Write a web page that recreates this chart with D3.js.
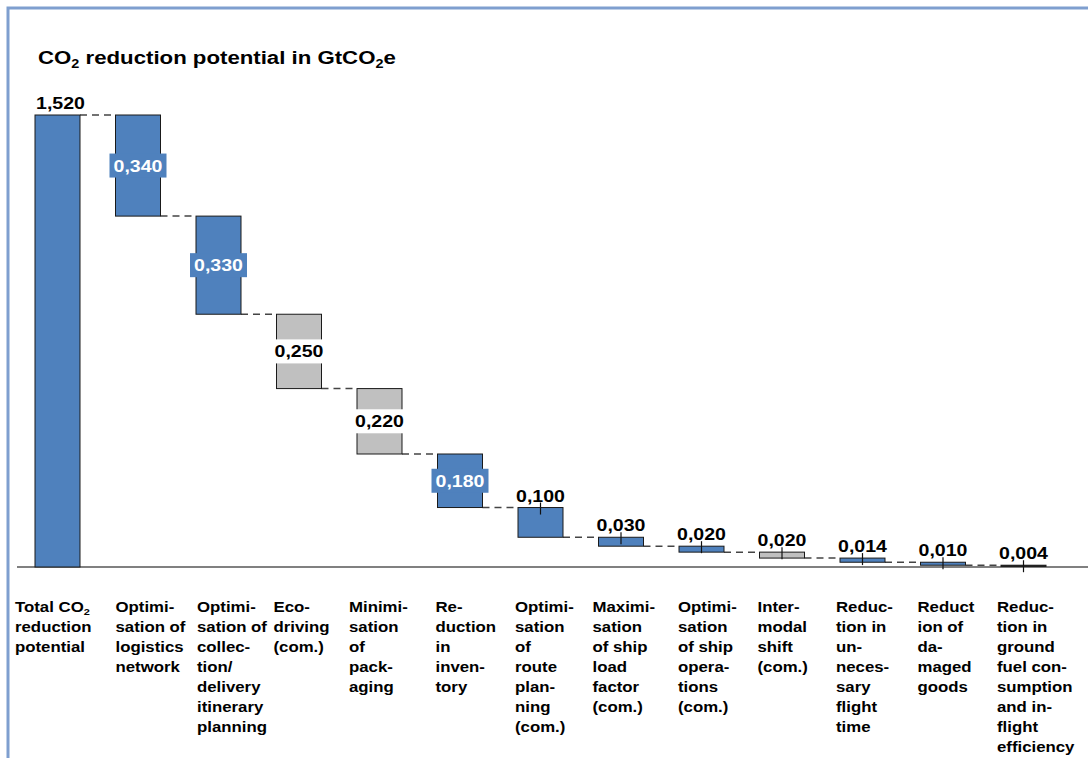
<!DOCTYPE html>
<html>
<head>
<meta charset="utf-8">
<script src="https://cdn.jsdelivr.net/npm/d3@7"></script>
<style>
  html, body { margin: 0; padding: 0; background: #fff; }
  svg { display: block; font-family: "Liberation Sans", Arial, sans-serif; }
</style>
</head>
<body>
<svg id="chart" width="1088" height="758"></svg>
<script>
// ---------------- data ----------------
const categoryLines = [
  ["Total CO_2", "reduction", "potential"],
  ["Optimi-", "sation of", "logistics", "network"],
  ["Optimi-", "sation of", "collec-", "tion/", "delivery", "itinerary", "planning"],
  ["Eco-", "driving", "(com.)"],
  ["Minimi-", "sation", "of", "pack-", "aging"],
  ["Re-", "duction", "in", "inven-", "tory"],
  ["Optimi-", "sation", "of", "route", "plan-", "ning", "(com.)"],
  ["Maximi-", "sation", "of ship", "load", "factor", "(com.)"],
  ["Optimi-", "sation", "of ship", "opera-", "tions", "(com.)"],
  ["Inter-", "modal", "shift", "(com.)"],
  ["Reduc-", "tion in", "un-", "neces-", "sary", "flight", "time"],
  ["Reduct", "ion of", "da-", "maged", "goods"],
  ["Reduc-", "tion in", "ground", "fuel con-", "sumption", "and in-", "flight", "efficiency"]
];
const values = [1.520, 0.340, 0.330, 0.250, 0.220, 0.180, 0.100, 0.030, 0.020, 0.020, 0.014, 0.010, 0.004];
const kinds  = ["total", "main", "main", "aux", "aux", "main", "main", "main", "main", "aux", "main", "main", "minor"];
const titleText = "CO_2 reduction potential in GtCO_2e";

// ---------------- layout / style ----------------
const W = 1088, H = 758;
const fillOf = { total: "#4F81BD", main: "#4F81BD", aux: "#C0C0C0", minor: "#1a1a1a" };
const labelShift = [-20, 0, 1, -3, -8, -2, -3, -6, -1, -2, -4, -3, -4];

const svg = d3.select("#chart");

// frame
svg.append("path")
  .attr("d", `M8,${H} V8 H${W}`)
  .attr("fill", "none")
  .attr("stroke", "#7F9FCF")
  .attr("stroke-width", 3);

const n = values.length;
const x = d3.scaleBand().domain(d3.range(n)).range([35, 1046]).paddingInner(0.441).paddingOuter(0);
const y = d3.scaleLinear().domain([0, 1.52]).range([567, 115]);
const bw = x.bandwidth();

// waterfall extents
const bars = [];
let cum = values[0];
bars.push({ i: 0, top: values[0], bottom: 0, v: values[0], kind: kinds[0] });
for (let i = 1; i < n; i++) {
  bars.push({ i, top: cum, bottom: cum - values[i], v: values[i], kind: kinds[i] });
  cum -= values[i];
}

const fmt = v => d3.format(".3f")(v).replace(".", ",");

// helper: text with subscripts ("_2") and horizontal stretch
function stext(parent, tx, ty, str, size, sx, anchor, fill) {
  const g = parent.append("g").attr("transform", `translate(${tx},${ty}) scale(${sx},1)`);
  const t = g.append("text")
    .attr("font-size", size).attr("font-weight", "bold")
    .attr("text-anchor", anchor || "start")
    .attr("fill", fill || "#000");
  const parts = str.split(/(_\d)/).filter(p => p);
  let shifted = 0;
  parts.forEach(p => {
    if (p[0] === "_") {
      const s = size * 0.22;
      t.append("tspan").text(p.slice(1)).attr("font-size", size * 0.65).attr("dy", s);
      shifted = s;
    } else {
      const ts = t.append("tspan").text(p);
      if (shifted) { ts.attr("dy", -shifted); shifted = 0; }
    }
  });
  return t;
}

// title
stext(svg, 38, 64, titleText, 19, 1.17, "start");

// connectors
const conn = svg.append("g");
for (let i = 0; i < n - 1; i++) {
  const lvl = i === 0 ? bars[0].top : bars[i].bottom;
  conn.append("line")
    .attr("x1", x(i) + bw).attr("x2", x(i + 1))
    .attr("y1", y(lvl)).attr("y2", y(lvl))
    .attr("stroke", "#444").attr("stroke-width", 1.5)
    .attr("stroke-dasharray", "7,5");
}

// baseline
svg.append("line")
  .attr("x1", 17).attr("x2", W).attr("y1", y(0)).attr("y2", y(0))
  .attr("stroke", "#808080").attr("stroke-width", 2);

// bars
svg.append("g").selectAll("rect").data(bars).join("rect")
  .attr("x", d => x(d.i))
  .attr("y", d => y(d.top))
  .attr("width", bw)
  .attr("height", d => Math.max(1, y(d.bottom) - y(d.top)))
  .attr("fill", d => fillOf[d.kind])
  .attr("stroke", "#1a1a1a")
  .attr("stroke-width", 1);

// value labels
const lab = svg.append("g");
bars.forEach(d => {
  const cx = x(d.i) + bw / 2;
  const hPx = y(d.bottom) - y(d.top);
  if (d.i > 0 && hPx > 40) {
    const mid = (y(d.top) + y(d.bottom)) / 2;
    const isMain = d.kind === "main";
    const bwBox = isMain ? 57 : 52;
    lab.append("rect")
      .attr("x", cx - bwBox / 2).attr("y", mid - 12)
      .attr("width", bwBox).attr("height", 24)
      .attr("fill", isMain ? fillOf.main : "#fff");
    stext(lab, cx, mid + 6, fmt(d.v), 17, 1.15, "middle", isMain ? "#fff" : "#000");
  } else {
    const top = y(d.top);
    stext(lab, cx + (d.i === 0 ? 3 : 0), top - 6, fmt(d.v), 17, 1.15, "middle", "#000");
    if (d.i > 0) {
      lab.append("line")
        .attr("x1", cx).attr("x2", cx)
        .attr("y1", top - 5).attr("y2", top + 7)
        .attr("stroke", "#111").attr("stroke-width", 1.2);
    }
  }
});

// category labels
const cats = svg.append("g");
categoryLines.forEach((lines, i) => {
  lines.forEach((ln, k) => {
    stext(cats, x(i) + labelShift[i], 612 + k * 20, ln, 14, 1.2, "start");
  });
});
</script>
</body>
</html>
